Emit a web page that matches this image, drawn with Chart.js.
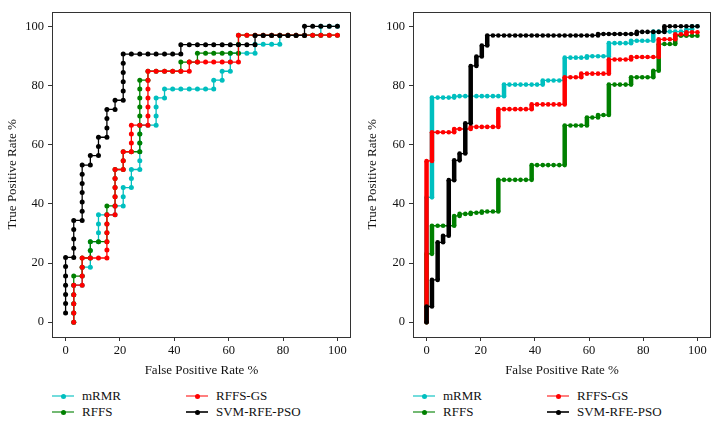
<!DOCTYPE html>
<html>
<head>
<meta charset="utf-8">
<script src="https://cdn.jsdelivr.net/npm/chart.js@4.4.0/dist/chart.umd.min.js"></script>
<style>
  body { margin: 0; background: #fff; }
  #wrap { position: relative; width: 721px; height: 425px; font-family: 'Liberation Serif', 'Times New Roman', serif; color: #111; }
  canvas { position: absolute; top: 0; }
  .item { position: absolute; height: 16px; line-height: 16px; font-size: 13px; white-space: nowrap; }
  .swatch { position: absolute; left: 0; top: 7px; width: 22px; height: 2px; }
  .dot { position: absolute; left: 8.5px; top: -1.5px; width: 5px; height: 5px; border-radius: 50%; }
  .label { position: absolute; top: 0; }
</style>
</head>
<body>
<div id="wrap">
  <canvas id="leftChart" width="360" height="380" style="left:0"></canvas>
  <canvas id="rightChart" width="361" height="380" style="left:360px"></canvas>
</div>
<script>
// series names and colours (legend order: column by column)
const seriesNames = ['mRMR', 'RFFS', 'RFFS-GS', 'SVM-RFE-PSO'];
const seriesColors = ['#00bfbf', '#008000', '#ff0000', '#000000'];
const legendLineColors = ['rgba(0,191,191,0.55)', 'rgba(0,128,0,0.55)', 'rgba(255,0,0,0.5)', 'rgba(0,0,0,0.8)'];

const tickValues = [0, 20, 40, 60, 80, 100];
const xTitle = 'False Positive Rate %';
const yTitle = 'True Positive Rate %';

// ---- left panel ----
const leftMrmrX = [3,3,3,3,3, 6.1,6.1,6.1, 9.1,9.1,9.1,9.1, 12.1,12.1,12.1,12.1, 15.2, 18.2,18.2, 21.2,21.2,21.2,
  24.2,24.2,24.2, 27.3,27.3,27.3,27.3,27.3,27.3, 30.3, 33.3,33.3,33.3,33.3, 36.4,36.4,
  39.4,42.4,45.5,48.5,51.5,54.5, 54.5, 57.6,57.6, 60.6,60.6,60.6, 63.6,66.7,69.7, 69.7,
  72.7,75.8,78.8, 78.8, 81.8,84.8,87.9,90.9,93.9, 93.9, 97,100];
const leftMrmrY = [0,3.1,6.2,9.3,12.5, 12.5,15.6,18.6, 18.6,21.7,24.2,27.2, 27.2,30.2,33.2,36.3, 36.3, 36.3,39.3, 39.3,42.4,45.5,
  45.5,48.6,51.6, 51.6,54.6,57.6,60.6,63.6,66.6, 66.6, 66.6,69.7,72.7,75.8, 75.8,78.8,
  78.8,78.8,78.8,78.8,78.8,78.8, 81.8, 81.8,84.8, 84.8,87.9,90.9, 90.9,90.9,90.9, 93.9,
  93.9,93.9,93.9, 97, 97,97,97,97,97, 100, 100,100];

const leftRffsX = [3,3,3,3,3,3, 6.1,6.1,6.1, 9.1,9.1,9.1, 12.1, 15.2,15.2,15.2,15.2,15.2, 18.2,18.2,18.2,18.2,18.2,
  21.2,21.2,21.2, 24.2, 27.3,27.3,27.3,27.3,27.3,27.3,27.3,27.3,27.3, 30.3,30.3, 33.3,36.4,39.4,42.4,
  42.4,45.5,48.5, 48.5, 51.5,54.5,57.6,60.6,63.6, 63.6,63.6,
  66.7,69.7,72.7,75.8,78.8,81.8,84.8,87.9,90.9,93.9,97,100];
const leftRffsY = [0,3.1,6.2,9.3,12.5,15.6, 15.6,18.6,21.7, 21.7,24.2,27.2, 27.2, 27.2,30.2,33.2,36.3,39.3, 39.3,42.4,45.5,48.6,51.6,
  51.6,54.6,57.6, 57.6, 57.6,60.6,63.6,66.6,69.7,72.7,75.8,78.8,81.8, 81.8,84.8, 84.8,84.8,84.8,84.8,
  87.9,87.9,87.9, 90.9, 90.9,90.9,90.9,90.9,90.9, 93.9,97,
  97,97,97,97,97,97,97,97,97,97,97,97];

const leftRffsGsX = [3,3,3,3,3, 6.1,6.1,6.1,6.1, 9.1,12.1,15.2, 15.2,15.2,15.2,15.2,15.2, 18.2,18.2,18.2,18.2,18.2,18.2,
  21.2,21.2,21.2, 24.2,24.2,24.2,24.2, 27.3, 30.3, 30.3,30.3,30.3,30.3,30.3,30.3,
  33.3,36.4,39.4,42.4,45.5, 45.5, 48.5,51.5,54.5,57.6,60.6,63.6, 63.6,
  66.7,69.7,72.7,75.8,78.8,81.8,84.8,87.9,90.9,93.9,97,100];
const leftRffsGsY = [0,3.1,6.2,9.3,12.5, 12.5,15.6,18.6,21.7, 21.7,21.7,21.7, 24.4,27.2,30.2,33.2,36.3, 36.3,39.3,42.4,45.5,48.6,51.6,
  51.6,54.6,57.6, 57.6,60.6,63.6,66.6, 66.6, 66.6, 69.7,72.7,75.8,78.8,81.8,84.8,
  84.8,84.8,84.8,84.8,84.8, 87.9, 87.9,87.9,87.9,87.9,87.9,87.9, 97,
  97,97,97,97,97,97,97,97,97,97,97,97];

const leftSvmX = [0,0,0,0,0,0,0, 3,3,3,3,3, 6.1,6.1,6.1,6.1,6.1,6.1,6.1, 9.1,9.1, 12.1,12.1,12.1, 15.2,15.2,15.2,15.2,
  18.2,18.2, 21.2,21.2,21.2,21.2,21.2,21.2, 24.2,27.3,30.3,33.3,36.4,39.4,42.4,
  42.4,45.5,48.5,51.5,54.5,57.6,60.6,63.6,66.7,69.7, 69.7,72.7,75.8,78.8,81.8,84.8,87.9,
  87.9,90.9,93.9,97,100];
const leftSvmY = [3.1,6.3,9.4,12.5,15.6,18.8,21.9, 21.9,25,28.1,31.3,34.4, 34.4,37.5,40.6,43.8,46.9,50,53.1, 53.1,56.3, 56.3,59.4,62.5, 62.5,65.6,68.8,71.9,
  71.9,75, 75,78.1,81.3,84.4,87.5,90.6, 90.6,90.6,90.6,90.6,90.6,90.6,90.6,
  93.8,93.8,93.8,93.8,93.8,93.8,93.8,93.8,93.8,93.8, 96.9,96.9,96.9,96.9,96.9,96.9,96.9,
  100,100,100,100,100];

// ---- right panel ----
const rightMrmrX = [0,0, 2,2, 4.1,6.1,8.2,10.2, 10.2,12.2,14.3,16.3,18.4,20.4,22.4,24.5,26.5,28.6,
  28.6,30.6,32.7,34.7,36.7,38.8,40.8,42.9, 42.9,44.9,46.9,49,51, 51,53.1,55.1,57.1,59.2,
  59.2,61.2,63.3,65.3,67.3, 67.3,69.4,71.4,73.5,75.5, 75.5,77.6,79.6,81.6,83.7,
  83.7,85.7,87.8,89.8,91.8,93.9,95.9, 95.9,98, 98,100];
const rightMrmrY = [0,42.2, 42.2,75.9, 75.9,75.9,75.9,75.9, 76.4,76.4,76.4,76.4,76.4,76.4,76.4,76.4,76.4,76.4,
  80.3,80.3,80.3,80.3,80.3,80.3,80.3,80.3, 81.7,81.7,81.7,81.7,81.7, 89.4,89.4,89.4,89.4,89.4,
  89.9,89.9,89.9,89.9,89.9, 94.3,94.3,94.3,94.3,94.3, 95.1,95.1,95.1,95.1,95.1,
  98.2,98.2,98.2,98.2,98.2,98.2,98.2, 99,99, 100,100];

const rightRffsX = [0,0, 2,2, 4.1,6.1,8.2,10.2, 10.2,12.2, 12.2,14.3,16.3, 16.3,18.4,20.4, 20.4,22.4,24.5,26.5,
  26.5,28.6,30.6,32.7,34.7,36.7,38.8, 38.8,40.8,42.9,44.9,46.9,49,51, 51,53.1,55.1,57.1,59.2,
  59.2,61.2,63.3, 63.3,65.3,67.3, 67.3,69.4,71.4,73.5,75.5, 75.5,77.6,79.6,81.6,83.7,
  83.7,85.7, 85.7,87.8,89.8,91.8, 91.8,93.9,95.9,98,100];
const rightRffsY = [0,23.1, 23.1,32.6, 32.6,32.6,32.6,32.6, 35.9,35.9, 36.6,36.6,36.6, 37,37,37, 37.4,37.4,37.4,37.4,
  48.1,48.1,48.1,48.1,48.1,48.1,48.1, 53.1,53.1,53.1,53.1,53.1,53.1,53.1, 66.5,66.5,66.5,66.5,66.5,
  69.2,69.2,69.2, 70,70,70, 80.3,80.3,80.3,80.3,80.3, 82.8,82.8,82.8,82.8,82.8,
  85,85, 94,94,94,94, 96.8,96.8,96.8,96.8,96.8];

const rightRffsGsX = [0,0, 2,2, 4.1,6.1,8.2,10.2, 10.2,12.2,14.3,16.3, 16.3,18.4,20.4,22.4,24.5,26.5,
  26.5,28.6,30.6,32.7,34.7,36.7,38.8, 38.8,40.8,42.9,44.9,46.9,49,51, 51,53.1,55.1,57.1,
  57.1,59.2,61.2,63.3,65.3,67.3, 67.3,69.4,71.4,73.5,75.5, 75.5,77.6,79.6,81.6,83.7,85.7,
  85.7,87.8,89.8,91.8, 91.8,93.9,95.9, 95.9,98,100];
const rightRffsGsY = [0,54.5, 54.5,64.2, 64.2,64.2,64.2,64.2, 65.3,65.3,65.3,65.3, 66,66,66,66,66,66,
  72,72,72,72,72,72,72, 73.6,73.6,73.6,73.6,73.6,73.6,73.6, 82.8,82.8,82.8,82.8,
  84,84,84,84,84,84, 88.8,88.8,88.8,88.8,88.8, 89.6,89.6,89.6,89.6,89.6,89.6,
  95.6,95.6,95.6,95.6, 97.3,97.3,97.3, 98,98,98];

const rightSvmX = [0,0, 2,2, 4.1,4.1, 6.1,6.1, 8.2,8.2, 10.2,10.2, 12.2,12.2, 14.3,14.3, 16.3,16.3, 18.4,18.4, 20.4,20.4, 22.4,22.4,
  24.5,26.5,28.6,30.6,32.7,34.7,36.7,38.8,40.8,42.9,44.9,46.9,49,51,53.1,55.1,57.1,59.2,61.2,63.3,
  63.3,65.3,67.3,69.4,71.4,73.5,75.5,77.6, 77.6,79.6,81.6,83.7,85.7,87.8,
  87.8,89.8,91.8,93.9,95.9,98,100];
const rightSvmY = [0,5.3, 5.3,14.3, 14.3,27, 27,29.2, 29.2,48, 48,54.7, 54.7,57, 57,67.2, 67.2,86.6, 86.6,89.8, 89.8,93.5, 93.5,96.9,
  96.9,96.9,96.9,96.9,96.9,96.9,96.9,96.9,96.9,96.9,96.9,96.9,96.9,96.9,96.9,96.9,96.9,96.9,96.9,96.9,
  97.4,97.4,97.4,97.4,97.4,97.4,97.4,97.4, 98.1,98.1,98.1,98.1,98.1,98.1,
  100,100,100,100,100,100,100];

const leftSeries = [[leftMrmrX, leftMrmrY], [leftRffsX, leftRffsY], [leftRffsGsX, leftRffsGsY], [leftSvmX, leftSvmY]];
const rightSeries = [[rightMrmrX, rightMrmrY], [rightRffsX, rightRffsY], [rightRffsGsX, rightRffsGsY], [rightSvmX, rightSvmY]];

const FONT = '"Liberation Serif", "Times New Roman", Times, serif';
Chart.defaults.font.family = FONT;
Chart.defaults.color = '#111';

function toPoints(xs, ys) {
  return xs.map((x, i) => ({ x: x, y: ys[i] }));
}

const frame = {
  id: 'frame',
  afterDatasetsDraw(chart) {
    const a = chart.chartArea;
    const ctx = chart.ctx;
    ctx.save();
    ctx.strokeStyle = '#333';
    ctx.lineWidth = 1;
    ctx.strokeRect(Math.round(a.left) + 0.5, Math.round(a.top) + 0.5, Math.round(a.right - a.left) - 1, Math.round(a.bottom - a.top) - 1);
    ctx.restore();
  }
};

function axis(title, isX, yWidth) {
  return {
    type: 'linear',
    min: -5,
    max: 105,
    afterBuildTicks: s => { s.ticks = tickValues.map(v => ({ value: v })); },
    afterFit: s => { if (isX) s.height = 43; else s.width = yWidth; },
    ticks: { font: { family: FONT, size: 12.5 }, color: '#111', padding: isX ? 2 : 4, maxRotation: 0, autoSkip: false },
    grid: { drawOnChartArea: false, drawTicks: true, tickLength: 4, color: '#333', lineWidth: 1 },
    border: { display: false },
    title: { display: true, text: title, font: { family: FONT, size: 13 }, color: '#111',
             padding: isX ? { top: 0, bottom: 2 } : { top: 5, bottom: 0 } }
  };
}

function makeChart(id, series, thickVertical, padRight, yWidth) {
  // first dataset is drawn on top, so go from SVM-RFE-PSO down to mRMR
  const datasets = [3, 2, 1, 0].map(i => ({
    label: seriesNames[i],
    data: toPoints(series[i][0], series[i][1]),
    showLine: true,
    borderColor: seriesColors[i],
    backgroundColor: seriesColors[i],
    borderWidth: 1.3,
    pointRadius: thickVertical ? 2.3 : 2.5,
    pointBorderWidth: 0,
    pointHoverRadius: 2.5,
    segment: thickVertical ? {
      borderWidth: ctx => Math.abs(ctx.p0.parsed.x - ctx.p1.parsed.x) < 1e-6 ? 4.5 : 1.3
    } : undefined
  }));
  new Chart(document.getElementById(id), {
    type: 'scatter',
    data: { datasets: datasets },
    options: {
      responsive: false,
      animation: false,
      layout: { padding: { top: 8, right: padRight, left: 0, bottom: 0 } },
      plugins: { legend: { display: false }, tooltip: { enabled: false } },
      scales: { x: axis(xTitle, true), y: axis(yTitle, false, yWidth) }
    },
    plugins: [frame]
  });
}

// legends, two columns under each panel
function addLegend(offsetX) {
  const wrap = document.getElementById('wrap');
  const colX = [52, 186];
  const rowTop = [388, 404];
  seriesNames.forEach((name, i) => {
    const col = Math.floor(i / 2), row = i % 2;
    const item = document.createElement('div');
    item.className = 'item';
    item.style.left = (offsetX + colX[col]) + 'px';
    item.style.top = rowTop[row] + 'px';
    item.innerHTML = '<span class="swatch" style="background:' + legendLineColors[i] + '">' +
      '<span class="dot" style="background:' + seriesColors[i] + '"></span></span>' +
      '<span class="label" style="left:30px">' + name + '</span>';
    wrap.appendChild(item);
  });
}

function drawAll() {
  makeChart('leftChart', leftSeries, false, 9, 52);
  makeChart('rightChart', rightSeries, true, 10, 53);
  addLegend(0);
  addLegend(361);
}

Promise.all([
  document.fonts.load('13px "Liberation Serif"'),
  document.fonts.load('12.5px "Liberation Serif"')
]).then(drawAll, drawAll);
</script>
</body>
</html>
